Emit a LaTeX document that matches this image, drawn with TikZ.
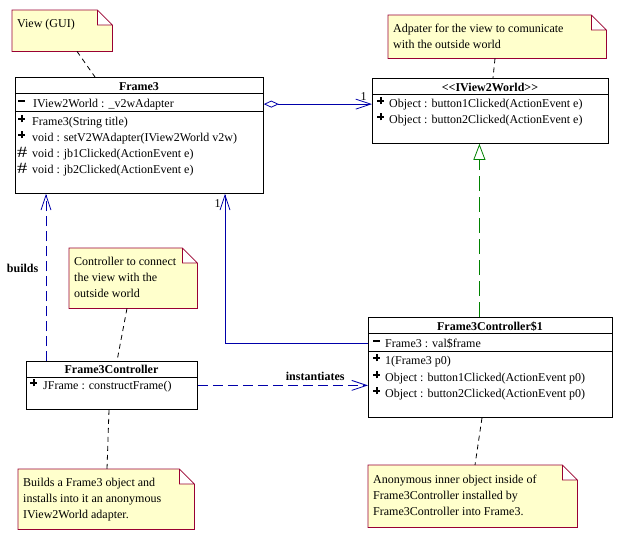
\documentclass[tikz,border=0pt]{standalone}
\usepackage{fontspec}
\setmainfont{Liberation Serif}
\usetikzlibrary{arrows.meta}
\definecolor{notefill}{RGB}{255,255,204}
\definecolor{noteline}{RGB}{153,0,51}
\definecolor{assocblue}{RGB}{0,0,170}
\definecolor{realgreen}{RGB}{0,130,0}
\newcommand{\pubsym}{\rlap{\rule[5.4pt]{7pt}{1.7pt}}\hspace{2.65pt}\rule[2.6pt]{1.7pt}{7.3pt}\hspace{2.65pt}}
\newcommand{\privsym}{\rule[5.5pt]{7pt}{1.8pt}}
\newcommand{\protsym}{\raisebox{-0.8pt}{\scalebox{1.7}[1.3]{\#}}}
\begin{document}
\begin{tikzpicture}[x=1pt,y=-1pt,font=\fontsize{12}{16}\selectfont,
   umlclass/.style={draw,line width=0.8pt,fill=white,anchor=north west,inner sep=0pt},
   notebox/.style={anchor=north west,inner sep=0pt},
   notetext/.style={anchor=north west,inner sep=0pt,align=left},
   ctitle/.style={anchor=base,inner sep=0pt,font=\fontsize{12}{16}\selectfont\bfseries},
   member/.style={anchor=base west,inner sep=0pt},
   notelink/.style={line width=0.8pt,dash pattern=on 5pt off 4pt},
   bluelink/.style={assocblue,line width=0.8pt},
   barb/.style={-{Straight Barb[length=15pt,width=10pt]}},
   linklabel/.style={font=\fontsize{12}{16}\selectfont\bfseries,text=black}]
   \useasboundingbox[fill=white] (0,0) rectangle (624,539);
   % notes
   \node[notebox,minimum width=100pt,minimum height=41pt] (gui) at (12,10) {};
   \node[notebox,minimum width=218pt,minimum height=43pt] (adp) at (388,15) {};
   \node[notebox,minimum width=128pt,minimum height=60pt] (ctl) at (69,248) {};
   \node[notebox,minimum width=176pt,minimum height=60pt] (bld) at (18,469) {};
   \node[notebox,minimum width=209pt,minimum height=62pt] (anon) at (368,465) {};
   \filldraw[fill=notefill,draw=noteline,line width=0.8pt] (gui.north west)--([xshift=-15pt]gui.north east)--([yshift=-15pt]gui.north east)--(gui.south east)--(gui.south west)--cycle ([xshift=-15pt]gui.north east)|-([yshift=-15pt]gui.north east);
   \filldraw[fill=notefill,draw=noteline,line width=0.8pt] (adp.north west)--([xshift=-15pt]adp.north east)--([yshift=-15pt]adp.north east)--(adp.south east)--(adp.south west)--cycle ([xshift=-15pt]adp.north east)|-([yshift=-15pt]adp.north east);
   \filldraw[fill=notefill,draw=noteline,line width=0.8pt] (ctl.north west)--([xshift=-15pt]ctl.north east)--([yshift=-15pt]ctl.north east)--(ctl.south east)--(ctl.south west)--cycle ([xshift=-15pt]ctl.north east)|-([yshift=-15pt]ctl.north east);
   \filldraw[fill=notefill,draw=noteline,line width=0.8pt] (bld.north west)--([xshift=-15pt]bld.north east)--([yshift=-15pt]bld.north east)--(bld.south east)--(bld.south west)--cycle ([xshift=-15pt]bld.north east)|-([yshift=-15pt]bld.north east);
   \filldraw[fill=notefill,draw=noteline,line width=0.8pt] (anon.north west)--([xshift=-15pt]anon.north east)--([yshift=-15pt]anon.north east)--(anon.south east)--(anon.south west)--cycle ([xshift=-15pt]anon.north east)|-([yshift=-15pt]anon.north east);
   \node[notetext] (guitext) at (17,18.5) {View (GUI)};
   \node[notetext] (adptext) at (393,23.5) {Adpater for the view to comunicate\\with the outside world};
   \node[notetext] (ctltext) at (74,256.5) {Controller to connect\\the view with the\\outside world};
   \node[notetext] (bldtext) at (23,477.5) {Builds a Frame3 object and\\installs into it an anonymous\\IView2World adapter.};
   \node[notetext] (anontext) at (373,474.5) {Anonymous inner object inside of\\Frame3Controller installed by\\Frame3Controller into Frame3.};
   % Frame3
   \node[umlclass,minimum width=248pt,minimum height=116pt] (frame) at (15,77) {};
   \draw[line width=0.8pt] ([yshift=-16.3pt]frame.north west)--([yshift=-16.3pt]frame.north east);
   \draw[line width=0.8pt] ([yshift=-34.7pt]frame.north west)--([yshift=-34.7pt]frame.north east);
   \node[ctitle] (frametitle) at (139,90) {Frame3};
   \node[member] (frameattr) at (18,107) {\makebox[15pt][l]{\privsym}IView2World : \_v2wAdapter};
   \node[member] (frameop1) at (18,125) {\makebox[14pt][l]{\pubsym}Frame3(String title)};
   \node[member] (frameop2) at (18,141) {\makebox[14pt][l]{\pubsym}void : setV2WAdapter(IView2World v2w)};
   \node[member] (frameop3) at (17,157) {\makebox[15pt][l]{\protsym}void : jb1Clicked(ActionEvent e)};
   \node[member] (frameop4) at (17,173) {\makebox[15pt][l]{\protsym}void : jb2Clicked(ActionEvent e)};
   % IView2World
   \node[umlclass,minimum width=236pt,minimum height=65pt] (iview) at (372,78) {};
   \draw[line width=0.8pt] ([yshift=-16.3pt]iview.north west)--([yshift=-16.3pt]iview.north east);
   \node[ctitle] (iviewtitle) at (490,91) {\textless\kern0pt\textless IView2World\textgreater\kern0pt\textgreater};
   \node[member] (iviewop1) at (377,107) {\makebox[12pt][l]{\pubsym}Object : button1Clicked(ActionEvent e)};
   \node[member] (iviewop2) at (377,123) {\makebox[12pt][l]{\pubsym}Object : button2Clicked(ActionEvent e)};
   % Frame3Controller$1
   \node[umlclass,minimum width=244pt,minimum height=100pt] (fc1) at (368,317) {};
   \draw[line width=0.8pt] ([yshift=-16pt]fc1.north west)--([yshift=-16pt]fc1.north east);
   \draw[line width=0.8pt] ([yshift=-34.4pt]fc1.north west)--([yshift=-34.4pt]fc1.north east);
   \node[ctitle] (fc1title) at (490,330) {Frame3Controller\$1};
   \node[member] (fc1attr) at (373,347) {\makebox[12pt][l]{\privsym}Frame3 : val\$frame};
   \node[member] (fc1op1) at (373,364) {\makebox[12pt][l]{\pubsym}1(Frame3 p0)};
   \node[member] (fc1op2) at (373,381) {\makebox[12pt][l]{\pubsym}Object : button1Clicked(ActionEvent p0)};
   \node[member] (fc1op3) at (373,397) {\makebox[12pt][l]{\pubsym}Object : button2Clicked(ActionEvent p0)};
   % Frame3Controller
   \node[umlclass,minimum width=171pt,minimum height=48pt] (fc) at (26,361) {};
   \draw[line width=0.8pt] ([yshift=-16pt]fc.north west)--([yshift=-16pt]fc.north east);
   \node[ctitle] (fctitle) at (111.5,373) {Frame3Controller};
   \node[member] (fcop1) at (30,389) {\makebox[13pt][l]{\pubsym}JFrame : constructFrame()};
   % note links
   \draw[notelink] ([xshift=65pt]gui.south west)--([xshift=80pt]frame.north west);
   \draw[notelink] ([xshift=107pt]adp.south west)--([xshift=121pt]iview.north west);
   \draw[notelink] ([xshift=58pt]ctl.south west)--([xshift=91pt]fc.north west);
   \draw[notelink] ([xshift=83pt]fc.south west)--([xshift=89pt]bld.north west);
   \draw[notelink] ([xshift=114pt]fc1.south west)--([xshift=107pt]anon.north west);
   % relations
   \draw[bluelink,{Diamond[open,length=15pt,width=7pt]}-{Straight Barb[length=15pt,width=10pt]}] (frame.east |- frameattr)--(iview.west |- frameattr) node[pos=1,anchor=south east,inner sep=1pt,xshift=-4pt,yshift=2pt,text=black] (aggmult) {1};
   \draw[bluelink,barb] (fc1.west |- fc1attr) -| ([xshift=210pt]frame.south west) node[pos=1,anchor=north east,inner sep=1pt,xshift=-3pt,yshift=-4pt,text=black] (assocmult) {1};
   \draw[bluelink,barb,dash pattern=on 10pt off 5pt] ([xshift=20pt]fc.north west)--([xshift=31pt]frame.south west) node[pos=0.53,anchor=base east,xshift=-4pt,linklabel] (buildslbl) {builds};
   \draw[bluelink,barb,dash pattern=on 10pt off 5pt] (fc.east)--(fc1.west |- fc.east) node[pos=0.69,anchor=base,yshift=5pt,linklabel] (instlbl) {instantiates};
   \draw[realgreen,line width=0.8pt,dash pattern=on 15pt off 6pt,-{Triangle[open,length=16pt,width=12pt]}] ([xshift=-11pt]fc1.north)--([xshift=-11pt]iview.south);
 \end{tikzpicture}
\end{document}
